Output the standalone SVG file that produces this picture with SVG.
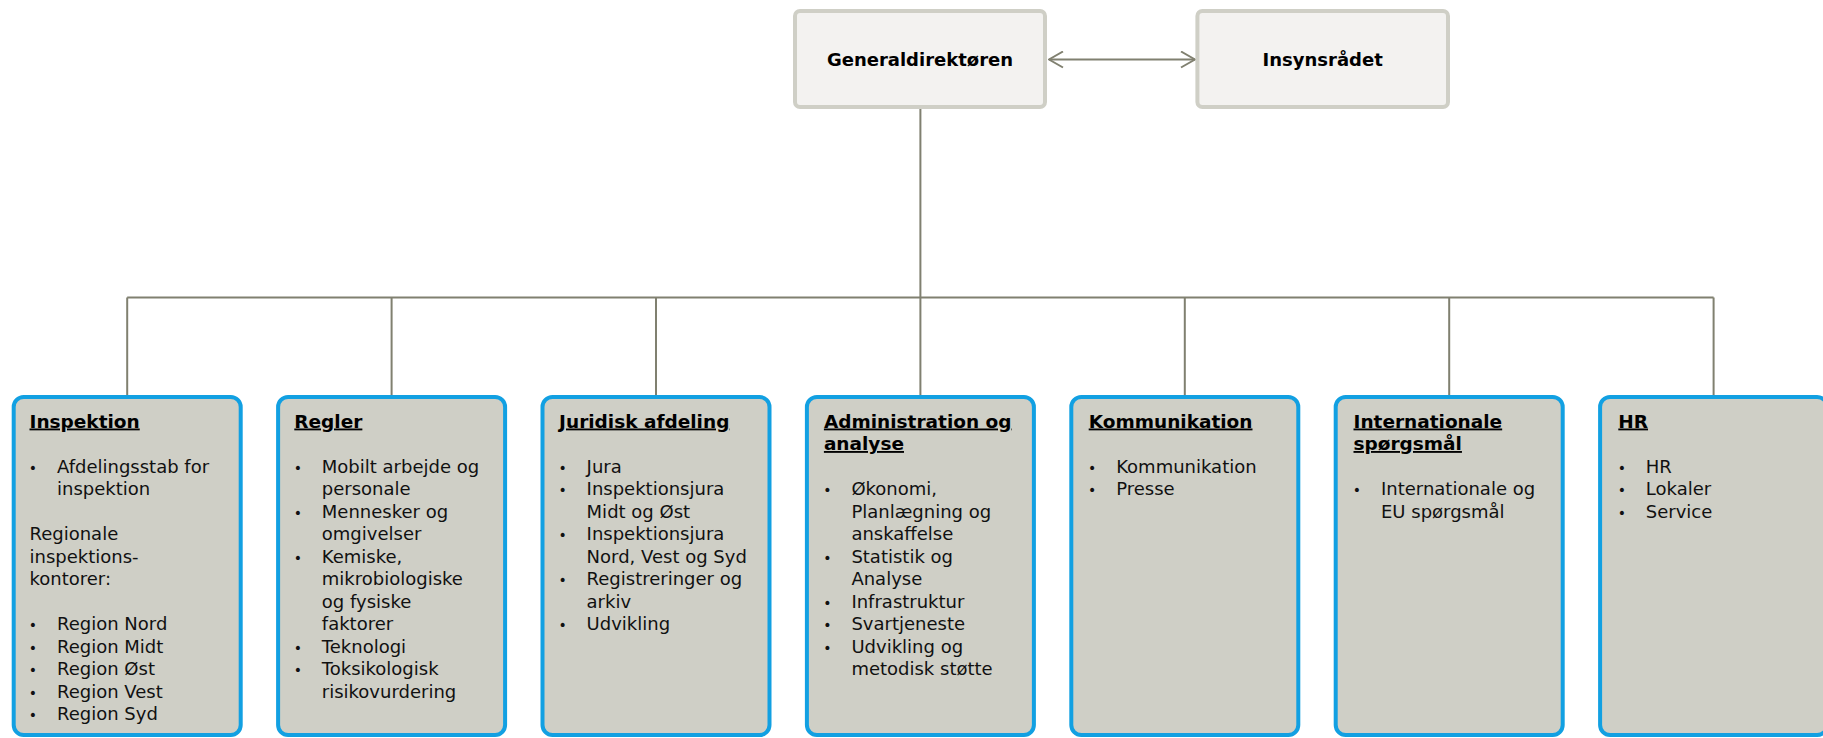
<svg xmlns="http://www.w3.org/2000/svg" width="1823" height="738" viewBox="0 0 1823 738">
<style>
.top{fill:#f3f2f0;stroke:#cfcfc6;stroke-width:4}
.dept{fill:#cfcfc6;stroke:#12a0e2;stroke-width:4}
.conn{fill:none;stroke:#808070;stroke-width:2}
.tt{font-family:"DejaVu Sans",Verdana,sans-serif;font-weight:bold;font-size:18px;fill:#000;text-anchor:middle}
.h{font-family:"DejaVu Sans",Verdana,sans-serif;font-weight:bold;font-size:18.5px;fill:#000;text-decoration:underline}
.t{font-family:"DejaVu Sans",Verdana,sans-serif;font-size:18px;fill:#111}
.b{font-family:"DejaVu Sans",Verdana,sans-serif;font-size:14px;fill:#111;text-anchor:middle}
</style>
<defs>
<marker id="chev" markerUnits="userSpaceOnUse" viewBox="0 0 16 18" refX="15" refY="9" markerWidth="16" markerHeight="18" orient="auto-start-reverse">
<path d="M1,1 L15,9 L1,17" fill="none" stroke="#808070" stroke-width="2"/>
</marker>
</defs>

<g id="connectors">
<line class="conn" x1="1049" y1="59.5" x2="1195" y2="59.5" marker-start="url(#chev)" marker-end="url(#chev)"/>
<path class="conn" d="M920.4,109 V297.5 M127.2,297.5 H1713.6 M127.2,297.5 V396 M391.6,297.5 V396 M656,297.5 V396 M920.4,297.5 V396 M1184.8,297.5 V396 M1449.2,297.5 V396 M1713.6,297.5 V396"/>
</g>

<g id="generaldirektoren">
<rect class="top" x="795" y="11" width="250" height="96" rx="5"/>
<text class="tt" x="920" y="66">Generaldirektøren</text>
</g>
<g id="insynsraadet">
<rect class="top" x="1197.4" y="11" width="250.6" height="96" rx="5"/>
<text class="tt" x="1322.7" y="66">Insynsrådet</text>
</g>

<g id="inspektion">
<rect class="dept" x="13.7" y="397" width="227" height="338" rx="10"/>
<text class="h" x="29.5" y="427.5">Inspektion</text>
<text class="b" x="33" y="472.5">•</text><text class="t" x="57" y="472.5">Afdelingsstab for</text>
<text class="t" x="57" y="495">inspektion</text>
<text class="t" x="29.5" y="540">Regionale</text>
<text class="t" x="29.5" y="562.5">inspektions-</text>
<text class="t" x="29.5" y="585">kontorer:</text>
<text class="b" x="33" y="630">•</text><text class="t" x="57" y="630">Region Nord</text>
<text class="b" x="33" y="652.5">•</text><text class="t" x="57" y="652.5">Region Midt</text>
<text class="b" x="33" y="675">•</text><text class="t" x="57" y="675">Region Øst</text>
<text class="b" x="33" y="697.5">•</text><text class="t" x="57" y="697.5">Region Vest</text>
<text class="b" x="33" y="720">•</text><text class="t" x="57" y="720">Region Syd</text>
</g>

<g id="regler">
<rect class="dept" x="278.1" y="397" width="227" height="338" rx="10"/>
<text class="h" x="294.3" y="427.5">Regler</text>
<text class="b" x="297.8" y="472.5">•</text><text class="t" x="321.8" y="472.5">Mobilt arbejde og</text>
<text class="t" x="321.8" y="495">personale</text>
<text class="b" x="297.8" y="517.5">•</text><text class="t" x="321.8" y="517.5">Mennesker og</text>
<text class="t" x="321.8" y="540">omgivelser</text>
<text class="b" x="297.8" y="562.5">•</text><text class="t" x="321.8" y="562.5">Kemiske,</text>
<text class="t" x="321.8" y="585">mikrobiologiske</text>
<text class="t" x="321.8" y="607.5">og fysiske</text>
<text class="t" x="321.8" y="630">faktorer</text>
<text class="b" x="297.8" y="652.5">•</text><text class="t" x="321.8" y="652.5">Teknologi</text>
<text class="b" x="297.8" y="675">•</text><text class="t" x="321.8" y="675">Toksikologisk</text>
<text class="t" x="321.8" y="697.5">risikovurdering</text>
</g>

<g id="juridisk">
<rect class="dept" x="542.5" y="397" width="227" height="338" rx="10"/>
<text class="h" x="559.1" y="427.5">Juridisk afdeling</text>
<text class="b" x="562.6" y="472.5">•</text><text class="t" x="586.6" y="472.5">Jura</text>
<text class="b" x="562.6" y="495">•</text><text class="t" x="586.6" y="495">Inspektionsjura</text>
<text class="t" x="586.6" y="517.5">Midt og Øst</text>
<text class="b" x="562.6" y="540">•</text><text class="t" x="586.6" y="540">Inspektionsjura</text>
<text class="t" x="586.6" y="562.5">Nord, Vest og Syd</text>
<text class="b" x="562.6" y="585">•</text><text class="t" x="586.6" y="585">Registreringer og</text>
<text class="t" x="586.6" y="607.5">arkiv</text>
<text class="b" x="562.6" y="630">•</text><text class="t" x="586.6" y="630">Udvikling</text>
</g>

<g id="administration">
<rect class="dept" x="806.9" y="397" width="227" height="338" rx="10"/>
<text class="h" x="823.9" y="427.5">Administration og</text>
<text class="h" x="823.9" y="450">analyse</text>
<text class="b" x="827.4" y="495">•</text><text class="t" x="851.4" y="495">Økonomi,</text>
<text class="t" x="851.4" y="517.5">Planlægning og</text>
<text class="t" x="851.4" y="540">anskaffelse</text>
<text class="b" x="827.4" y="562.5">•</text><text class="t" x="851.4" y="562.5">Statistik og</text>
<text class="t" x="851.4" y="585">Analyse</text>
<text class="b" x="827.4" y="607.5">•</text><text class="t" x="851.4" y="607.5">Infrastruktur</text>
<text class="b" x="827.4" y="630">•</text><text class="t" x="851.4" y="630">Svartjeneste</text>
<text class="b" x="827.4" y="652.5">•</text><text class="t" x="851.4" y="652.5">Udvikling og</text>
<text class="t" x="851.4" y="675">metodisk støtte</text>
</g>

<g id="kommunikation">
<rect class="dept" x="1071.3" y="397" width="227" height="338" rx="10"/>
<text class="h" x="1088.7" y="427.5">Kommunikation</text>
<text class="b" x="1092.2" y="472.5">•</text><text class="t" x="1116.2" y="472.5">Kommunikation</text>
<text class="b" x="1092.2" y="495">•</text><text class="t" x="1116.2" y="495">Presse</text>
</g>

<g id="internationale">
<rect class="dept" x="1335.7" y="397" width="227" height="338" rx="10"/>
<text class="h" x="1353.5" y="427.5">Internationale</text>
<text class="h" x="1353.5" y="450">spørgsmål</text>
<text class="b" x="1357" y="495">•</text><text class="t" x="1381" y="495">Internationale og</text>
<text class="t" x="1381" y="517.5">EU spørgsmål</text>
</g>

<g id="hr">
<rect class="dept" x="1600.1" y="397" width="227" height="338" rx="10"/>
<text class="h" x="1618.3" y="427.5">HR</text>
<text class="b" x="1621.8" y="472.5">•</text><text class="t" x="1645.8" y="472.5">HR</text>
<text class="b" x="1621.8" y="495">•</text><text class="t" x="1645.8" y="495">Lokaler</text>
<text class="b" x="1621.8" y="517.5">•</text><text class="t" x="1645.8" y="517.5">Service</text>
</g>
</svg>
